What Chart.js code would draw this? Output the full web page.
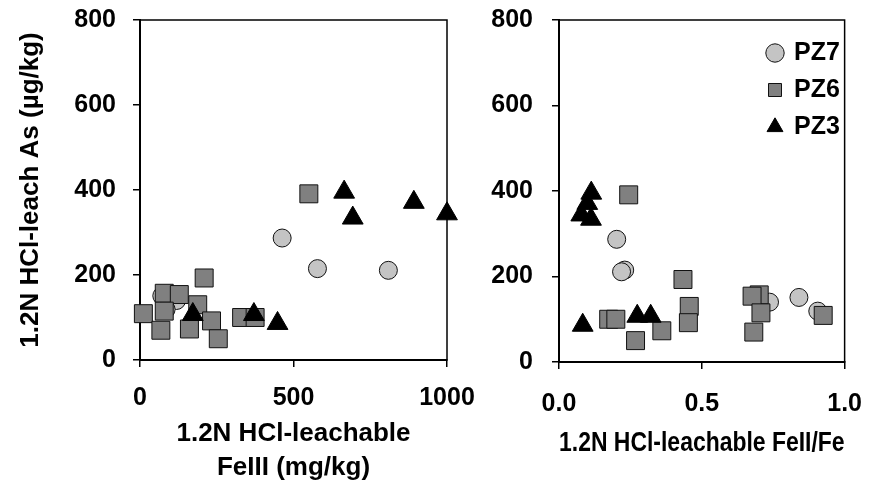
<!DOCTYPE html>
<html>
<head>
<meta charset="utf-8">
<script src="https://cdn.jsdelivr.net/npm/chart.js@4.4.1/dist/chart.umd.min.js"></script>
<style>
  body { margin: 0; background: #fff; }
  #wrap { position: relative; width: 882px; height: 487px; }
  #wrap canvas { position: absolute; left: 0; top: 0; }
</style>
</head>
<body>
<div id="wrap">
  <canvas id="feChart" width="882" height="487"></canvas>
  <canvas id="ratioChart" width="882" height="487"></canvas>
</div>
<script>
// As (ug/kg) for each sample, paired with FeIII (mg/kg) and FeII/Fe ratio
const pz7As    = [287, 215, 211, 151, 140, 119];
const pz7FeIII = [463, 578, 809, 71, 119, 85];
const pz7Ratio = [0.202, 0.230, 0.219, 0.840, 0.737, 0.906];

const pz6As    = [391, 193, 157, 154, 130, 115, 109, 100, 100, 92, 73, 70, 50];
const pz6FeIII = [550, 209, 79, 128, 188, 79, 11, 331, 375, 233, 161, 68, 255];
const pz6Ratio = [0.244, 0.434, 0.701, 0.676, 0.456, 0.707, 0.925, 0.174, 0.199, 0.453, 0.360, 0.682, 0.268];

const pz3As    = [395, 371, 344, 334, 107, 107, 86];
const pz3FeIII = [665, 892, 1000, 693, 172, 371, 448];
const pz3Ratio = [0.113, 0.099, 0.078, 0.112, 0.274, 0.321, 0.083];

const asTicks = [0, 200, 400, 600, 800];

Chart.defaults.font.family = '"Liberation Sans", Arial, sans-serif';
Chart.defaults.font.weight = 'bold';
Chart.defaults.color = '#000';

function toPoints(xs, ys) {
    return xs.map((x, i) => ({ x: x, y: ys[i] }));
}

function buildDatasets(pz7x, pz6x, pz3x) {
    return [
        {
            label: 'PZ7',
            data: toPoints(pz7x, pz7As),
            pointStyle: 'circle',
            pointRadius: 9,
            backgroundColor: '#c4c4c4',
            borderColor: '#111',
            borderWidth: 1,
            order: 3,
            clip: false
        },
        {
            label: 'PZ6',
            data: toPoints(pz6x, pz6As),
            pointStyle: 'rect',
            pointRadius: 12.7,
            backgroundColor: '#808080',
            borderColor: '#111',
            borderWidth: 1,
            order: 2,
            clip: false
        },
        {
            label: 'PZ3',
            data: toPoints(pz3x, pz3As),
            pointStyle: 'triangle',
            pointRadius: 12,
            backgroundColor: '#000',
            borderColor: '#000',
            borderWidth: 1,
            order: 1,
            clip: false
        }
    ];
}

// box round the plotting area
const frame = {
    id: 'frame',
    beforeDatasetsDraw(chart) {
        const { ctx, chartArea: a } = chart;
        ctx.save();
        ctx.strokeStyle = '#000';
        ctx.lineWidth = 1.5;
        ctx.strokeRect(a.left, a.top, a.width, a.height);
        ctx.restore();
    }
};

// moves the in-plot legend to a fixed corner spot
const legendSpot = {
    id: 'legendSpot',
    afterLayout(chart, args, opts) {
        const lg = chart.legend;
        if (!lg || opts.x === undefined) return;
        lg.left = opts.x;
        lg.top = opts.y;
        lg.right = lg.left + lg.width;
        lg.bottom = lg.top + lg.height;
    }
};

function yScale(width, labelPad, title) {
    return {
        min: 0,
        max: 800,
        afterFit: s => {
            s.width = width;
            // labels may hang over the ends, the layout padding covers that
            s.paddingTop = 0;
            s.paddingBottom = 0;
        },
        afterBuildTicks: s => { s.ticks = asTicks.map(v => ({ value: v })); },
        border: { display: true, color: '#000', width: 2 },
        grid: { drawOnChartArea: false, color: '#000', lineWidth: 1.5, tickLength: 7 },
        ticks: { padding: labelPad, font: { size: 25 } },
        title: title
    };
}

function xScale(min, max, step, height, labelPad, tickFmt, title) {
    return {
        type: 'linear',
        min: min,
        max: max,
        afterFit: s => { s.height = height; },
        border: { display: true, color: '#000', width: 2 },
        grid: { drawOnChartArea: false, color: '#000', lineWidth: 1.5, tickLength: 7 },
        ticks: { stepSize: step, padding: labelPad, font: { size: 25 }, callback: tickFmt },
        title: title
    };
}

// left panel: As vs FeIII
new Chart(document.getElementById('feChart'), {
    type: 'scatter',
    data: { datasets: buildDatasets(pz7FeIII, pz6FeIII, pz3FeIII) },
    options: {
        responsive: false,
        animation: false,
        layout: { padding: { left: 0, right: 435, top: 20, bottom: 0 } },
        plugins: { legend: { display: false }, tooltip: { enabled: false } },
        scales: {
            x: xScale(0, 1000, 500, 127, 16, v => v, {
                display: true,
                text: ['1.2N HCl-leachable', 'FeIII (mg/kg)'],
                font: { size: 26, lineHeight: 1.3 },
                padding: { top: 0, bottom: 2 }
            }),
            y: yScale(140, 17, {
                display: true,
                text: '1.2N HCl-leach As (\u00b5g/kg)',
                font: { size: 26, lineHeight: 1.3 },
                padding: { top: 14, bottom: 0 }
            })
        }
    },
    plugins: [frame]
});

// right panel: As vs FeII/Fe
new Chart(document.getElementById('ratioChart'), {
    type: 'scatter',
    data: { datasets: buildDatasets(pz7Ratio, pz6Ratio, pz3Ratio) },
    options: {
        responsive: false,
        animation: false,
        layout: { padding: { left: 470, right: 21, top: 20, bottom: 0 } },
        plugins: {
            tooltip: { enabled: false },
            legend: {
                position: 'chartArea',
                align: 'start',
                labels: {
                    usePointStyle: true,
                    boxWidth: 13,
                    boxHeight: 13,
                    padding: 12,
                    font: { size: 25 },
                    sort: (a, b) => a.datasetIndex - b.datasetIndex
                }
            },
            legendSpot: { x: 756.5, y: 28.5 }
        },
        scales: {
            x: xScale(0, 1, 0.5, 125, 20, v => Number(v).toFixed(1), {
                display: true,
                text: '1.2N HCl-leachable FeII/Fe',
                font: { size: 27, lineHeight: 1.3 },
                padding: { top: 0, bottom: 26 }
            }),
            y: yScale(89, 19, { display: false })
        }
    },
    plugins: [frame, legendSpot]
});
</script>
</body>
</html>
